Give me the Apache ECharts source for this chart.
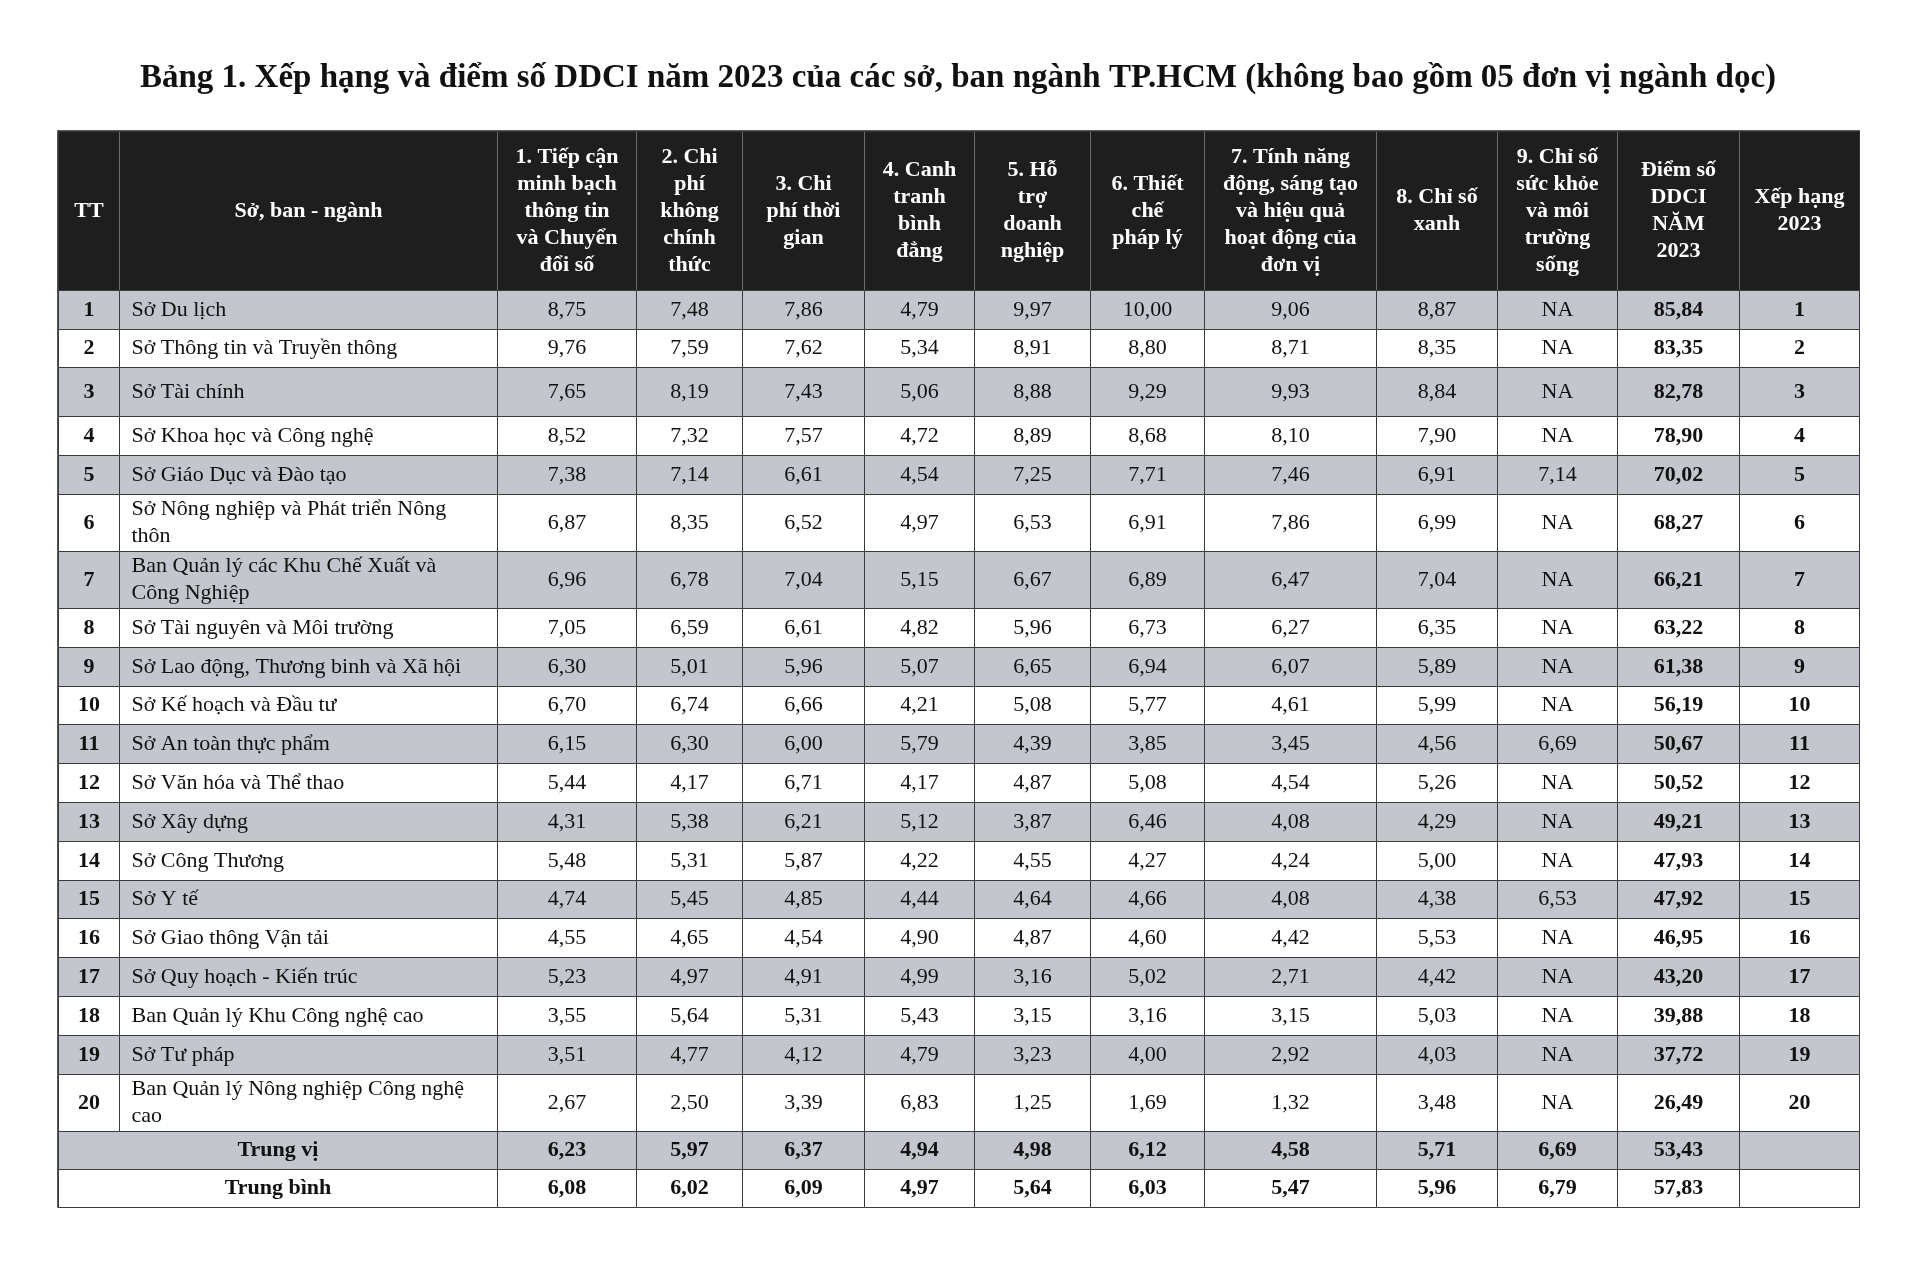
<!DOCTYPE html>
<html>
<head>
<meta charset="utf-8">
<script src="https://cdn.jsdelivr.net/npm/echarts@6/dist/echarts.min.js"></script>
<style>
html,body{margin:0;padding:0;background:#fff;}
#chart{width:1916px;height:1282px;}
</style>
</head>
<body>
<div id="chart"></div>
<script>
const TITLE = 'Bảng 1. Xếp hạng và điểm số DDCI năm 2023 của các sở, ban ngành TP.HCM (không bao gồm 05 đơn vị ngành dọc)';

const headers = [
  'TT', 'Sở, ban - ngành',
  '1. Tiếp cận\nminh bạch\nthông tin\nvà Chuyển\nđổi số',
  '2. Chi\nphí\nkhông\nchính\nthức',
  '3. Chi\nphí thời\ngian',
  '4. Canh\ntranh\nbình\nđẳng',
  '5. Hỗ\ntrợ\ndoanh\nnghiệp',
  '6. Thiết\nchế\npháp lý',
  '7. Tính năng\nđộng, sáng tạo\nvà hiệu quả\nhoạt động của\nđơn vị',
  '8. Chỉ số\nxanh',
  '9. Chỉ số\nsức khỏe\nvà môi\ntrường\nsống',
  'Điểm số\nDDCI\nNĂM\n2023',
  'Xếp hạng\n2023'
];

const tt = [1,2,3,4,5,6,7,8,9,10,11,12,13,14,15,16,17,18,19,20];
const names = [
  'Sở Du lịch',
  'Sở Thông tin và Truyền thông',
  'Sở Tài chính',
  'Sở Khoa học và Công nghệ',
  'Sở Giáo Dục và Đào tạo',
  'Sở Nông nghiệp và Phát triển Nông\nthôn',
  'Ban Quản lý các Khu Chế Xuất và\nCông Nghiệp',
  'Sở Tài nguyên và Môi trường',
  'Sở Lao động, Thương binh và Xã hội',
  'Sở Kế hoạch và Đầu tư',
  'Sở An toàn thực phẩm',
  'Sở Văn hóa và Thể thao',
  'Sở Xây dựng',
  'Sở Công Thương',
  'Sở Y tế',
  'Sở Giao thông Vận tải',
  'Sở Quy hoạch - Kiến trúc',
  'Ban Quản lý Khu Công nghệ cao',
  'Sở Tư pháp',
  'Ban Quản lý Nông nghiệp Công nghệ\ncao'
];
const c1 = [8.75,9.76,7.65,8.52,7.38,6.87,6.96,7.05,6.30,6.70,6.15,5.44,4.31,5.48,4.74,4.55,5.23,3.55,3.51,2.67];
const c2 = [7.48,7.59,8.19,7.32,7.14,8.35,6.78,6.59,5.01,6.74,6.30,4.17,5.38,5.31,5.45,4.65,4.97,5.64,4.77,2.50];
const c3 = [7.86,7.62,7.43,7.57,6.61,6.52,7.04,6.61,5.96,6.66,6.00,6.71,6.21,5.87,4.85,4.54,4.91,5.31,4.12,3.39];
const c4 = [4.79,5.34,5.06,4.72,4.54,4.97,5.15,4.82,5.07,4.21,5.79,4.17,5.12,4.22,4.44,4.90,4.99,5.43,4.79,6.83];
const c5 = [9.97,8.91,8.88,8.89,7.25,6.53,6.67,5.96,6.65,5.08,4.39,4.87,3.87,4.55,4.64,4.87,3.16,3.15,3.23,1.25];
const c6 = [10.00,8.80,9.29,8.68,7.71,6.91,6.89,6.73,6.94,5.77,3.85,5.08,6.46,4.27,4.66,4.60,5.02,3.16,4.00,1.69];
const c7 = [9.06,8.71,9.93,8.10,7.46,7.86,6.47,6.27,6.07,4.61,3.45,4.54,4.08,4.24,4.08,4.42,2.71,3.15,2.92,1.32];
const c8 = [8.87,8.35,8.84,7.90,6.91,6.99,7.04,6.35,5.89,5.99,4.56,5.26,4.29,5.00,4.38,5.53,4.42,5.03,4.03,3.48];
const c9 = [null,null,null,null,7.14,null,null,null,null,null,6.69,null,null,null,6.53,null,null,null,null,null];
const score = [85.84,83.35,82.78,78.90,70.02,68.27,66.21,63.22,61.38,56.19,50.67,50.52,49.21,47.93,47.92,46.95,43.20,39.88,37.72,26.49];
const rank = [1,2,3,4,5,6,7,8,9,10,11,12,13,14,15,16,17,18,19,20];

const summaryLabels = ['Trung vị', 'Trung bình'];
const medianRow = [6.23,5.97,6.37,4.94,4.98,6.12,4.58,5.71,6.69,53.43];
const meanRow   = [6.08,6.02,6.09,4.97,5.64,6.03,5.47,5.96,6.79,57.83];

// ---- layout / style (not data) ----
const FONT = '"Liberation Serif", "Times New Roman", serif';
const colWidths = [61, 378, 139, 106, 122, 110, 116, 114, 172, 121, 120, 122, 120];
const NORMAL_H = 38.8;
const tallRows = {2: 49, 5: 57, 6: 57, 19: 57};
const GRAY = '#c3c6cd';
const WHITE = '#ffffff';

function fmt(v) { return v == null ? 'NA' : v.toFixed(2).replace('.', ','); }

const nRows = tt.length + 2;
const yData = [];
for (let i = 0; i < nRows; i++) {
  yData.push({ value: 'r' + i, size: tallRows[i] || NORMAL_H });
}
const xData = headers.map((h, i) => ({ value: h, size: colWidths[i] }));

const cells = [];
const valueCols = [c1, c2, c3, c4, c5, c6, c7, c8, c9];
for (let r = 0; r < tt.length; r++) {
  const bg = r % 2 === 0 ? GRAY : WHITE;
  const st = { color: bg };
  cells.push({ coord: [0, r], value: String(tt[r]), itemStyle: st, label: { fontWeight: 'bold' } });
  cells.push({ coord: [1, r], value: names[r], itemStyle: st,
    label: { position: 'insideLeft', align: 'left', padding: [0, 0, 0, 12], lineHeight: 27, overflow: 'none', width: null } });
  valueCols.forEach((col, k) => {
    cells.push({ coord: [2 + k, r], value: fmt(col[r]), itemStyle: st });
  });
  cells.push({ coord: [11, r], value: fmt(score[r]), itemStyle: st, label: { fontWeight: 'bold' } });
  cells.push({ coord: [12, r], value: String(rank[r]), itemStyle: st, label: { fontWeight: 'bold' } });
}
[medianRow, meanRow].forEach((row, j) => {
  const r = tt.length + j;
  const st = { color: j === 0 ? GRAY : WHITE };
  cells.push({ coord: [[0, 1], r], mergeCells: true, value: summaryLabels[j], itemStyle: st, label: { fontWeight: 'bold' } });
  row.forEach((v, k) => {
    cells.push({ coord: [2 + k, r], value: fmt(v), itemStyle: st, label: { fontWeight: 'bold' } });
  });
  cells.push({ coord: [12, r], value: '', itemStyle: st });
});

const chart = echarts.init(document.getElementById('chart'), null, { renderer: 'canvas' });
chart.setOption({
  backgroundColor: '#ffffff',
  title: {
    text: TITLE,
    left: 'center',
    top: 57,
    textStyle: { fontFamily: FONT, fontWeight: 'bold', fontSize: 33, color: '#111' }
  },
  matrix: {
    left: 58,
    top: 131,
    width: 1801,
    height: 1076,
    x: {
      data: xData,
      levelSize: 159,
      itemStyle: { color: '#1e1e1e', borderColor: '#6a6a6a', borderWidth: 1 },
      label: { color: '#ffffff', fontFamily: FONT, fontWeight: 'bold', fontSize: 22, lineHeight: 27, overflow: 'none' }
    },
    y: {
      show: false,
      data: yData
    },
    body: {
      data: cells,
      itemStyle: { color: WHITE, borderColor: '#3a3a3a', borderWidth: 1 },
      label: { color: '#111', fontFamily: FONT, fontSize: 22, overflow: 'none' }
    },
    backgroundStyle: { borderColor: '#222', borderWidth: 1.5 }
  }
});
</script>
</body>
</html>
